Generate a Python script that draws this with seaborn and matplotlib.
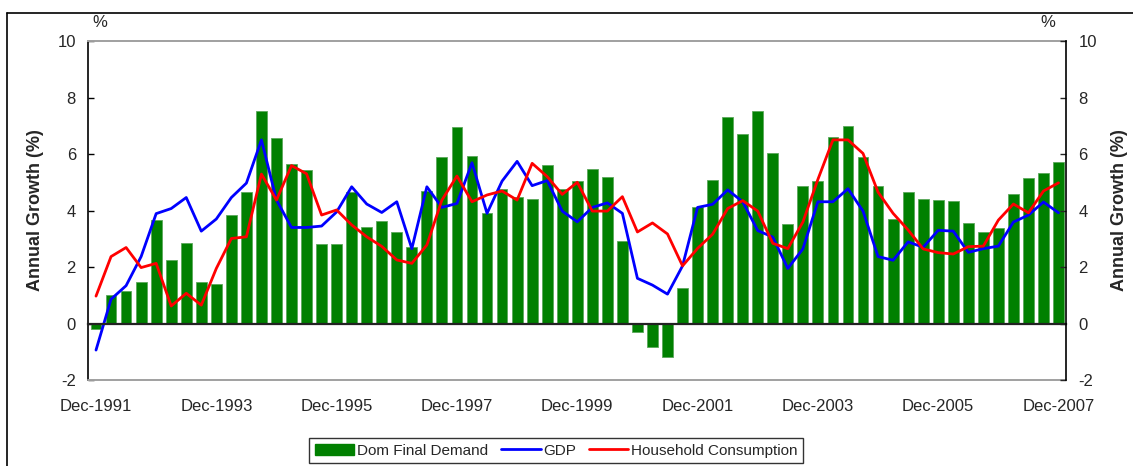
import pandas as pd
import matplotlib
matplotlib.use("Agg")
import matplotlib.pyplot as plt
import seaborn as sns
from matplotlib.patches import Patch
from matplotlib.lines import Line2D

# quarterly annual growth, Dec-1991 .. Dec-2007
quarters = pd.period_range("1991Q4", periods=65, freq="Q").astype(str)

dom_final_demand = [-0.2, 1.0, 1.14, 1.47, 3.66, 2.25, 2.85, 1.47, 1.39, 3.85,
                    4.65, 7.51, 6.57, 5.66, 5.42, 2.80, 2.80, 4.65, 3.43, 3.62,
                    3.24, 2.71, 4.70, 5.91, 6.94, 5.94, 3.90, 4.75, 4.47, 4.42,
                    5.61, 4.75, 5.04, 5.47, 5.19, 2.92, -0.31, -0.84, -1.17, 1.25,
                    4.14, 5.08, 7.32, 6.71, 7.51, 6.04, 3.52, 4.86, 5.04, 6.61,
                    6.99, 5.91, 4.86, 3.71, 4.65, 4.42, 4.37, 4.32, 3.57, 3.24,
                    3.38, 4.57, 5.14, 5.33, 5.70]

gdp = [-0.94, 0.86, 1.34, 2.37, 3.89, 4.07, 4.46, 3.27, 3.70, 4.46,
       4.97, 6.50, 4.37, 3.40, 3.40, 3.45, 3.95, 4.84, 4.23, 3.93,
       4.31, 2.65, 4.84, 4.11, 4.25, 5.69, 3.90, 5.04, 5.74, 4.88,
       5.06, 3.98, 3.60, 4.11, 4.27, 3.90, 1.60, 1.36, 1.04, 2.04,
       4.11, 4.22, 4.73, 4.31, 3.29, 3.06, 1.95, 2.64, 4.31, 4.31,
       4.77, 3.98, 2.37, 2.24, 2.89, 2.70, 3.30, 3.27, 2.52, 2.65,
       2.74, 3.59, 3.84, 4.30, 3.92]

household_consumption = [0.97, 2.37, 2.69, 1.98, 2.13, 0.62, 1.07, 0.65, 1.95, 3.01,
                         3.07, 5.29, 4.37, 5.59, 5.30, 3.84, 4.02, 3.49, 3.07, 2.73,
                         2.25, 2.13, 2.78, 4.37, 5.22, 4.31, 4.55, 4.69, 4.37, 5.67,
                         5.20, 4.57, 5.00, 3.98, 3.98, 4.49, 3.24, 3.56, 3.17, 2.04,
                         2.66, 3.16, 4.07, 4.35, 3.98, 2.84, 2.65, 3.59, 5.10, 6.50,
                         6.50, 6.02, 4.65, 3.90, 3.31, 2.64, 2.51, 2.46, 2.72, 2.74,
                         3.66, 4.23, 3.92, 4.69, 4.98]

tick_labels = ["Dec-1991", "Dec-1993", "Dec-1995", "Dec-1997", "Dec-1999",
               "Dec-2001", "Dec-2003", "Dec-2005", "Dec-2007"]
y_ticks = [-2, 0, 2, 4, 6, 8, 10]


def main():
    df = pd.DataFrame({
        "quarter": quarters,
        "pos": range(len(quarters)),
        "dfd": dom_final_demand,
        "gdp": gdp,
        "hh": household_consumption,
    })

    sns.set_style("white")
    plt.rcParams["font.family"] = ["Liberation Sans", "DejaVu Sans"]
    plt.rcParams["axes.unicode_minus"] = False

    fig = plt.figure(figsize=(11.33, 4.66), dpi=100)
    ax = fig.add_axes([0.0781, 0.1845, 0.8628, 0.7275])

    sns.barplot(data=df, x="quarter", y="dfd", color="#008000", saturation=1,
                width=0.72, edgecolor="#5aa85a", linewidth=0.6, ax=ax)
    sns.lineplot(data=df, x="pos", y="gdp", color="#0000ff", lw=2.0,
                 estimator=None, sort=False, ax=ax)
    sns.lineplot(data=df, x="pos", y="hh", color="#ff0000", lw=2.0,
                 estimator=None, sort=False, ax=ax)

    ax.set_xlim(-0.5, len(df) - 0.5)
    ax.set_ylim(-2, 10)
    ax.set_yticks(y_ticks)
    ax.tick_params(axis="y", direction="in", length=4, width=1, pad=9,
                   labelsize=12, color="black")
    ax.set_ylabel("Annual Growth (%)", fontsize=13, fontweight="bold", labelpad=10)
    ax.set_xlabel("")

    # category axis sits on zero, labels below the frame
    ax.spines["bottom"].set_position(("data", 0))
    ax.spines["bottom"].set_color("#222222")
    ax.spines["bottom"].set_linewidth(1.6)
    ax.spines["top"].set_color("#a0a0a0")
    ax.spines["top"].set_linewidth(1.4)
    ax.spines["left"].set_color("black")
    ax.spines["left"].set_linewidth(1.2)
    ax.spines["right"].set_visible(False)
    ax.axhline(-2, color="#a0a0a0", lw=1.4, clip_on=False, zorder=3)

    ax.set_xticks(list(range(0, len(df), 8)))
    ax.set_xticklabels(tick_labels)
    ax.set_xticks([i + 3.5 for i in range(0, len(df) - 1, 4)], minor=True)
    ax.tick_params(axis="x", which="major", length=0, pad=54, labelsize=12)
    ax.tick_params(axis="x", which="minor", direction="out", length=4,
                   width=1, color="#555555")

    ax2 = ax.twinx()
    ax2.set_ylim(-2, 10)
    ax2.set_yticks(y_ticks)
    ax2.tick_params(axis="y", direction="in", length=4, width=1, pad=9,
                    labelsize=12)
    ax2.set_ylabel("Annual Growth (%)", fontsize=13, fontweight="bold",
                   labelpad=10, rotation=90)
    for side in ["top", "bottom", "left"]:
        ax2.spines[side].set_visible(False)
    ax2.spines["right"].set_color("black")
    ax2.spines["right"].set_linewidth(1.2)

    fig.text(0.088, 0.952, "%", fontsize=12, ha="center", va="center")
    fig.text(0.925, 0.952, "%", fontsize=12, ha="center", va="center")

    # partial outer frame
    fig.add_artist(Line2D([0.0066, 0.0066], [0.0, 0.973], color="black", lw=1.2))
    fig.add_artist(Line2D([0.0066, 1.0], [0.973, 0.973], color="black", lw=1.2))

    handles = [Patch(facecolor="#008000", edgecolor="#008000"),
               Line2D([], [], color="#0000ff", lw=2.0),
               Line2D([], [], color="#ff0000", lw=2.0)]
    leg = fig.legend(handles, ["Dom Final Demand", "GDP", "Household Consumption"],
                     loc="center", bbox_to_anchor=(0.491, 0.033), ncol=3,
                     fontsize=11, frameon=True, fancybox=False, handlelength=2.6,
                     handletextpad=0.2, columnspacing=0.8, borderpad=0.35)
    leg.get_frame().set_edgecolor("black")
    leg.get_frame().set_linewidth(1.0)

    fig.savefig("out.png", dpi=100)


if __name__ == "__main__":
    main()
